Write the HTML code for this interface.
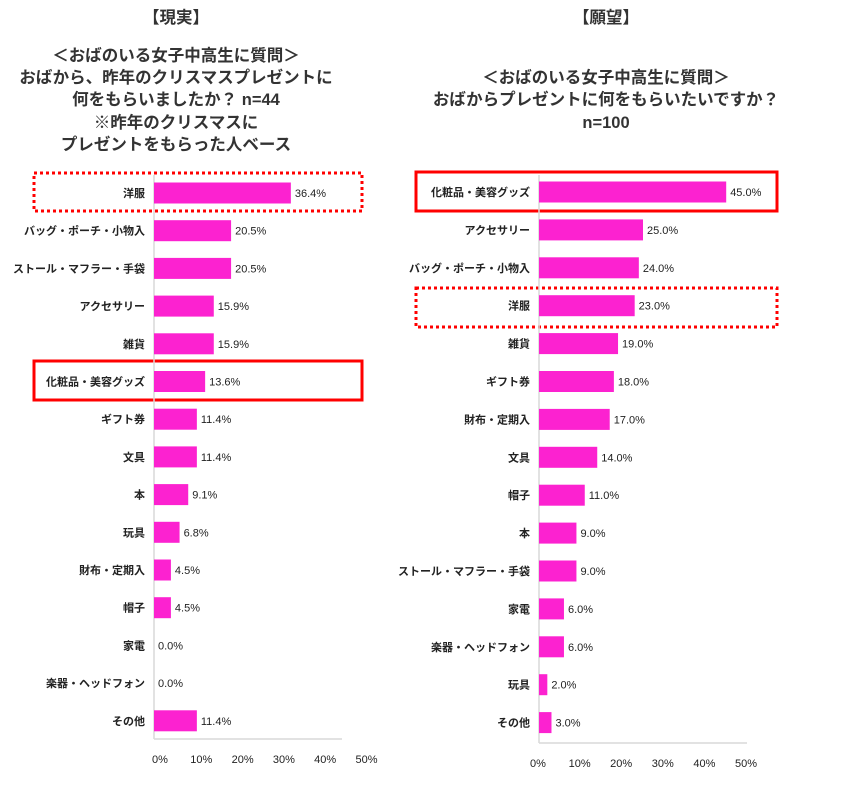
<!DOCTYPE html>
<html><head><meta charset="utf-8">
<style>
body{margin:0;background:#fff;}
svg{display:block;font-family:"Liberation Sans","Noto Sans CJK JP",sans-serif;}
.t{font-size:16.5px;font-weight:bold;fill:#333;text-anchor:middle;}
.cat{font-size:11px;font-weight:bold;fill:#222;text-anchor:end;}
.val{font-size:11px;fill:#222;}
.tick{font-size:11px;fill:#222;text-anchor:middle;}
</style></head><body>
<svg id="c" width="844" height="786">
<g>
<text class="t" x="176" y="23">【現実】</text>
<text class="t" x="176" y="61">＜おばのいる女子中高生に質問＞</text>
<text class="t" x="176" y="83">おばから、昨年のクリスマスプレゼントに</text>
<text class="t" x="176" y="105">何をもらいましたか？ n=44</text>
<text class="t" x="176" y="128">※昨年のクリスマスに</text>
<text class="t" x="176" y="150">プレゼントをもらった人ベース</text>
</g>
<g>
<text class="t" x="606" y="23">【願望】</text>
<text class="t" x="606" y="83">＜おばのいる女子中高生に質問＞</text>
<text class="t" x="606" y="105">おばからプレゼントに何をもらいたいですか？</text>
<text class="t" x="606" y="128">n=100</text>
</g>
<rect x="34" y="173" width="328" height="38" fill="none" stroke="#f00" stroke-width="3" stroke-dasharray="3,3"/>
<rect x="34" y="361" width="328" height="39" fill="none" stroke="#f00" stroke-width="3"/>
<rect x="416" y="172" width="361" height="39" fill="none" stroke="#f00" stroke-width="3"/>
<rect x="416" y="288" width="361" height="39" fill="none" stroke="#f00" stroke-width="3" stroke-dasharray="3,3"/>
</svg>
<script>
const leftCats=["洋服","バッグ・ポーチ・小物入","ストール・マフラー・手袋","アクセサリー","雑貨","化粧品・美容グッズ","ギフト券","文具","本","玩具","財布・定期入","帽子","家電","楽器・ヘッドフォン","その他"];
const leftVals=[36.4,20.5,20.5,15.9,15.9,13.6,11.4,11.4,9.1,6.8,4.5,4.5,0.0,0.0,11.4];
const rightCats=["化粧品・美容グッズ","アクセサリー","バッグ・ポーチ・小物入","洋服","雑貨","ギフト券","財布・定期入","文具","帽子","本","ストール・マフラー・手袋","家電","楽器・ヘッドフォン","玩具","その他"];
const rightVals=[45.0,25.0,24.0,23.0,19.0,18.0,17.0,14.0,11.0,9.0,9.0,6.0,6.0,2.0,3.0];
const tickVals=[0,10,20,30,40,50];
const NS="http://www.w3.org/2000/svg";
const svg=document.getElementById('c');
function mk(tag,attrs,text){const e=document.createElementNS(NS,tag);for(const k in attrs)e.setAttribute(k,attrs[k]);if(text!==undefined)e.textContent=text;svg.appendChild(e);return e;}
function chart(side,cats,vals,x0,pxPer,y0,pitch,axisY,axisTop,tick0,tickStep){
  const xs=v=>x0+v*pxPer;
  const ys=i=>y0+i*pitch;
  const ax=mk('line',{x1:x0,y1:axisTop,x2:x0,y2:axisY,stroke:'#d9d9d9','stroke-width':1.5});
  
  
  const bx=mk('line',{x1:x0,y1:axisY,x2:xs(50),y2:axisY,stroke:'#d9d9d9','stroke-width':1.5});
  
  
  cats.forEach((c,i)=>{
    const y=ys(i);
    const r=mk('rect',{x:x0,y:y-10.5,width:Math.max(0,xs(vals[i])-x0),height:21,fill:'#fc22d0'});
    
    
    const l=mk('text',{class:'cat',x:x0-9,y:y+4},c);
    
    
    const v=mk('text',{class:'val',x:xs(vals[i])+4,y:y+4},vals[i].toFixed(1)+'%');
    
    
  });
  tickVals.forEach((t,i)=>{
    const tl=mk('text',{class:'tick',x:tick0+i*tickStep,y:axisY+24},t+'%');
    
    
  });
}
chart('left',leftCats,leftVals,154,3.76,193,37.7,739,175,160,41.3);
chart('right',rightCats,rightVals,539,4.16,192,37.9,743,175,538,41.6);
</script>
</body></html>
